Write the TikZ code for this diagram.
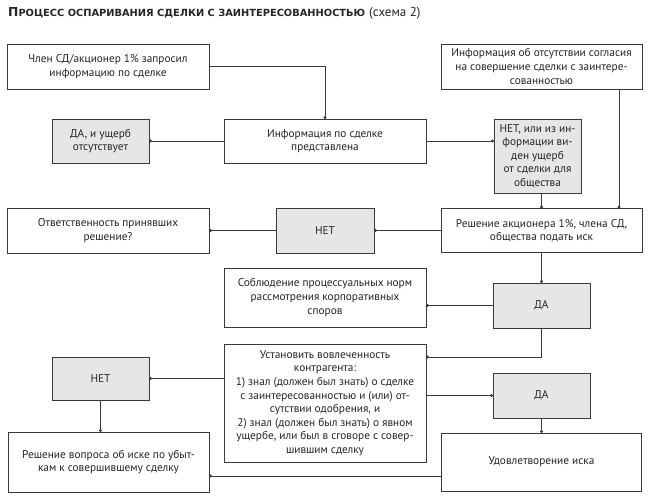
\documentclass[tikz,border=0pt]{standalone}
\usepackage{fontspec}
\setmainfont{PT Sans}
\newfontfamily\titlefont{DejaVu Sans}
\usetikzlibrary{arrows.meta}
\definecolor{linec}{HTML}{3A3A3A}
\definecolor{boxfill}{HTML}{E6E6E6}
\definecolor{txt}{HTML}{262626}
\begin{document}
\begin{tikzpicture}[x=1pt,y=-1pt,
  every node/.style={font=\fontsize{11.3}{13.6}\selectfont, text=txt},
  box/.style={draw=linec, line width=0.8pt, fill=white, align=center, inner sep=0pt, outer sep=0pt},
  gbox/.style={box, fill=boxfill},
  conn/.style={draw=linec, line width=0.8pt, -{Circle[length=3pt]}}]
\useasboundingbox[fill=white] (0,0) rectangle (650,500);
% title
\node[anchor=base west, inner sep=0pt] (title) at (8,17)
  {\resizebox{357pt}{9pt}{\titlefont\bfseries П{\fontsize{9}{10}\selectfont РОЦЕСС ОСПАРИВАНИЯ СДЕЛКИ С ЗАИНТЕРЕСОВАННОСТЬЮ}}\hspace{4pt}{\fontsize{13}{14}\selectfont(схема 2)}};
% boxes
\node[box, minimum width=202pt, minimum height=45pt] (A) at (108,66.5)
  {Член СД/акционер 1\% запросил\\информацию по сделке};
\node[box, minimum width=201pt, minimum height=45pt] (B) at (541.5,66.5)
  {Информация об отсутствии согласия\\на совершение сделки с заинтере-\\сованностью};
\node[box, minimum width=202pt, minimum height=44pt] (C) at (325,141)
  {Информация по сделке\\представлена};
\node[gbox, minimum width=97pt, minimum height=44pt] (D) at (100.5,141)
  {ДА, и ущерб\\отсутствует};
\node[gbox, minimum width=87pt, minimum height=74pt] (E) at (537.5,156)
  {НЕТ, или из ин-\\формации ви-\\ден ущерб\\от сделки для\\общества};
\node[box, minimum width=202pt, minimum height=45pt] (F) at (108,230.5)
  {Ответственность принявших\\решение?};
\node[gbox, minimum width=98pt, minimum height=45pt] (G) at (325,230.5) {НЕТ};
\node[box, minimum width=201pt, minimum height=44pt] (H) at (541.5,230.5)
  {Решение акционера 1\%, члена СД,\\общества подать иск};
\node[box, minimum width=202pt, minimum height=59pt] (I) at (325,297.5)
  {Соблюдение процессуальных норм\\рассмотрения корпоративных\\споров};
\node[gbox, minimum width=97pt, minimum height=45pt] (J) at (541.5,305.5) {ДА};
\node[box, minimum width=202pt, minimum height=118pt] (K) at (325,403)
  {Установить вовлеченность\\контрагента:\\1) знал (должен был знать) о сделке\\с заинтересованностью и (или) от-\\сутствии одобрения, и\\2) знал (должен был знать) о явном\\ущербе, или был в сговоре с совер-\\шившим сделку};
\node[gbox, minimum width=97pt, minimum height=43pt] (L) at (100.5,378.5) {НЕТ};
\node[gbox, minimum width=97pt, minimum height=45pt] (M) at (541.5,395.5) {ДА};
\node[box, minimum width=201pt, minimum height=60pt] (N) at (108.5,462)
  {Решение вопроса об иске по убыт-\\кам к совершившему сделку};
\node[box, minimum width=200pt, minimum height=58pt] (O) at (541.5,462)
  {Удовлетворение иска};
% helper coordinates
\coordinate (kin) at (426,357);
\coordinate (ocorner) at (442,476);
% connectors
\draw[conn] (A.east) -| (C.north);
\draw[conn] ([xshift=77.5pt]B.south) -- ([xshift=77.5pt]H.north);
\draw[conn] (C.west) -- (D.east);
\draw[conn] (C.east) -- (C.east -| E.west);
\draw[conn] (E.south -| J.north) -- (H.north -| J.north);
\draw[conn] (H.west) -- (G.east);
\draw[conn] (G.west) -- (F.east);
\draw[conn] (H.south) -- (J.north);
\draw[conn] (J.west) -- (J.west -| I.east);
\draw[conn] (J.south) |- (kin);
\draw[conn] (K.west |- L.east) -- (L.east);
\draw[conn] (K.east |- M.west) -- (M.west);
\draw[conn] (L.south) -- (L.south |- N.north);
\draw[conn] (M.south) -- (O.north);
\draw[conn] (ocorner) -- (ocorner -| N.east);
\end{tikzpicture}
\end{document}
